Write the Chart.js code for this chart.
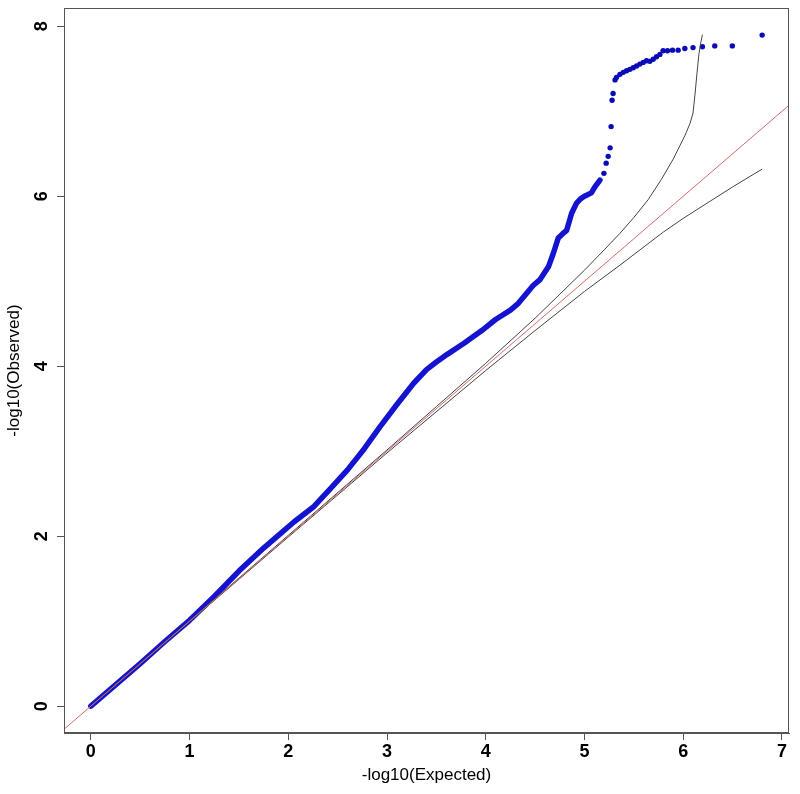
<!DOCTYPE html>
<html>
<head>
<meta charset="utf-8">
<script src="https://cdn.jsdelivr.net/npm/chart.js@4"></script>
<style>
  html, body { margin: 0; padding: 0; background: #fff; }
  canvas { display: block; }
</style>
</head>
<body>
<canvas id="qq" width="800" height="794"></canvas>
<script>
// -log10 p values: dense body of the QQ curve
const denseX = [0, 0.25, 0.5, 0.75, 1.0, 1.25, 1.5, 1.75, 1.92, 2.06, 2.26, 2.42, 2.6, 2.77, 2.93, 3.1, 3.27, 3.4, 3.5, 3.61, 3.78, 3.96, 4.1, 4.25, 4.33, 4.415, 4.48, 4.55, 4.635, 4.685, 4.735, 4.78, 4.82, 4.87, 4.92, 4.96, 5.0, 5.07, 5.106, 5.157];
const denseY = [0, 0.25, 0.5, 0.76, 1.01, 1.29, 1.59, 1.86, 2.03, 2.17, 2.35, 2.55, 2.78, 3.03, 3.29, 3.55, 3.8, 3.96, 4.05, 4.14, 4.27, 4.42, 4.55, 4.66, 4.74, 4.86, 4.95, 5.02, 5.17, 5.33, 5.51, 5.56, 5.6, 5.8, 5.92, 5.97, 6.0, 6.04, 6.11, 6.19];

// sparse top hits, drawn as single dots
const tailX = [5.197, 5.22, 5.24, 5.26, 5.27, 5.28, 5.29, 5.31, 5.325, 5.359, 5.393, 5.427, 5.46, 5.494, 5.528, 5.561, 5.595, 5.629, 5.662, 5.696, 5.73, 5.764, 5.797, 5.841, 5.892, 5.949, 6.017, 6.1, 6.195, 6.32, 6.498, 6.8];
const tailY = [6.27, 6.39, 6.47, 6.57, 6.82, 7.13, 7.21, 7.37, 7.4, 7.435, 7.459, 7.478, 7.494, 7.513, 7.533, 7.556, 7.576, 7.595, 7.588, 7.612, 7.642, 7.67, 7.713, 7.713, 7.72, 7.72, 7.74, 7.75, 7.76, 7.77, 7.77, 7.897];

// 95% band
const upperX = [0, 1, 2, 3, 3.5, 4, 4.5, 5, 5.2, 5.36, 5.5, 5.645, 5.78, 5.9, 6.02, 6.07, 6.1, 6.12, 6.14, 6.16, 6.18, 6.195];
const upperY = [0, 1.005, 2.01, 3.015, 3.525, 4.035, 4.565, 5.13, 5.37, 5.565, 5.75, 5.96, 6.2, 6.44, 6.72, 6.86, 6.98, 7.2, 7.45, 7.68, 7.82, 7.9];
const lowerX = [0, 1, 2, 3, 4, 4.5, 5, 5.36, 5.8, 6.0, 6.27, 6.5, 6.8];
const lowerY = [0, 0.995, 1.99, 2.98, 3.95, 4.42, 4.88, 5.19, 5.58, 5.74, 5.94, 6.11, 6.32];

// y = x reference line
const diagX = [-1, 8];
const diagY = [-1, 8];

const xTicks = [0, 1, 2, 3, 4, 5, 6, 7];
const yTicks = [0, 2, 4, 6, 8];
const xRange = [-0.272, 7.072];
const yRange = [-0.316, 8.216];

const zip = (xs, ys) => xs.map((x, i) => ({ x, y: ys[i] }));

const FAMILY = "'Liberation Sans', Arial, sans-serif";
const BLUE = "#1414d0";
const AXIS = "#555";

// R style closed box round the plot region
const boxPlugin = {
  id: "box",
  afterDatasetsDraw(chart) {
    const { ctx, chartArea: a } = chart;
    ctx.save();
    ctx.strokeStyle = AXIS;
    ctx.lineWidth = 1;
    ctx.strokeRect(a.left + 0.5, a.top + 0.5, a.right - a.left - 1, a.bottom - a.top - 1);
    ctx.restore();
  },
};

// keep the plot region fixed, no extra room for overhanging labels
function noPad(axis) {
  axis.paddingTop = 0;
  axis.paddingBottom = 0;
  axis.paddingLeft = 0;
  axis.paddingRight = 0;
}

new Chart(document.getElementById("qq"), {
  type: "scatter",
  data: {
    datasets: [
      {
        label: "diag",
        type: "line",
        data: zip(diagX, diagY),
        borderColor: "#d46a6a",
        borderWidth: 1,
        pointRadius: 0,
      },
      {
        label: "upper",
        type: "line",
        data: zip(upperX, upperY),
        borderColor: "#444",
        borderWidth: 1,
        pointRadius: 0,
      },
      {
        label: "lower",
        type: "line",
        data: zip(lowerX, lowerY),
        borderColor: "#444",
        borderWidth: 1,
        pointRadius: 0,
      },
      {
        label: "dense",
        type: "line",
        data: zip(denseX, denseY),
        borderColor: BLUE,
        borderWidth: 5.5,
        borderCapStyle: "round",
        borderJoinStyle: "round",
        pointRadius: 0,
      },
      {
        label: "tail",
        data: zip(tailX, tailY),
        backgroundColor: "#0a0ab8",
        borderWidth: 0,
        pointRadius: 2.7,
      },
    ],
  },
  options: {
    responsive: false,
    animation: false,
    layout: { padding: { left: 0, top: 8, right: 11, bottom: 0 } },
    plugins: {
      legend: { display: false },
      tooltip: { enabled: false },
    },
    scales: {
      x: {
        type: "linear",
        min: xRange[0],
        max: xRange[1],
        afterBuildTicks: (axis) => { axis.ticks = xTicks.map((v) => ({ value: v })); },
        afterFit: (axis) => { axis.height = 61; noPad(axis); },
        grid: { drawOnChartArea: false, drawTicks: true, tickLength: 7, color: AXIS },
        border: { color: AXIS },
        ticks: {
          color: "#000",
          padding: 1,
          font: { family: FAMILY, size: 18, weight: "bold" },
          callback: (v) => String(v),
        },
        title: {
          display: true,
          text: "-log10(Expected)",
          color: "#000",
          padding: { top: 0, bottom: 8 },
          font: { family: FAMILY, size: 17 },
        },
      },
      y: {
        type: "linear",
        min: yRange[0],
        max: yRange[1],
        afterBuildTicks: (axis) => { axis.ticks = yTicks.map((v) => ({ value: v })); },
        afterFit: (axis) => { axis.width = 64; noPad(axis); },
        grid: { drawOnChartArea: false, drawTicks: true, tickLength: 7, color: AXIS },
        border: { color: AXIS },
        ticks: {
          color: "#000",
          padding: 10,
          minRotation: 90,
          maxRotation: 90,
          crossAlign: "center",
          font: { family: FAMILY, size: 18, weight: "bold" },
          callback: (v) => String(v),
        },
        title: {
          display: true,
          text: "-log10(Observed)",
          color: "#000",
          padding: { top: 4, bottom: 0 },
          font: { family: FAMILY, size: 17 },
        },
      },
    },
  },
  plugins: [boxPlugin],
});
</script>
</body>
</html>
